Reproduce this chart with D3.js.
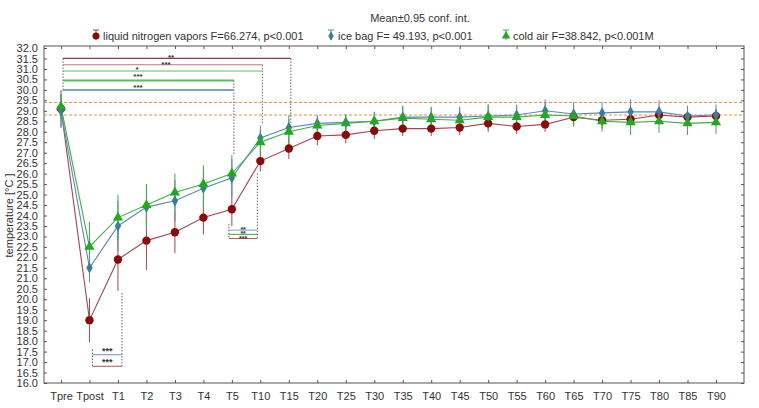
<!DOCTYPE html>
<html>
<head>
<meta charset="utf-8">
<script src="https://cdn.jsdelivr.net/npm/d3@7"></script>
<style>
  body { margin: 0; background: #fff; }
  svg text { font-family: "Liberation Sans", Arial, sans-serif; fill: #333; }
</style>
</head>
<body>
<svg id="chart"></svg>
<script>
const width = 759;
const height = 408;

// categories (time points)
const categories = ["Tpre", "Tpost", "T1", "T2", "T3", "T4", "T5", "T10", "T15", "T20", "T25", "T30",
  "T35", "T40", "T45", "T50", "T55", "T60", "T65", "T70", "T75", "T80", "T85", "T90"];

// means
const nitrogen = [29.1, 19.0, 21.9, 22.8, 23.2, 23.9, 24.3, 26.6, 27.2, 27.8, 27.85, 28.05,
  28.15, 28.15, 28.2, 28.4, 28.25, 28.35, 28.7, 28.55, 28.6, 28.8, 28.7, 28.75];
const iceBag = [29.0, 21.5, 23.5, 24.4, 24.7, 25.3, 25.8, 27.7, 28.2, 28.4, 28.45, 28.5,
  28.7, 28.7, 28.7, 28.75, 28.8, 29.0, 28.85, 28.9, 28.95, 28.95, 28.75, 28.8];
const coldAir = [29.2, 22.5, 23.9, 24.5, 25.1, 25.5, 26.0, 27.5, 28.0, 28.3, 28.4, 28.5,
  28.65, 28.6, 28.55, 28.7, 28.7, 28.8, 28.75, 28.5, 28.45, 28.5, 28.4, 28.45];

// 0.95 confidence half-widths
const nitrogenCI = [0.9, 1.05, 1.5, 1.4, 1.0, 0.8, 0.8, 0.5, 0.5, 0.45, 0.4, 0.4,
  0.35, 0.35, 0.35, 0.4, 0.35, 0.35, 0.4, 0.4, 0.4, 0.4, 0.35, 0.35];
const iceBagCI = [0.8, 0.7, 1.2, 1.1, 1.0, 0.9, 0.9, 0.6, 0.6, 0.4, 0.4, 0.45,
  0.5, 0.5, 0.5, 0.55, 0.5, 0.55, 0.55, 0.5, 0.6, 0.55, 0.5, 0.5];
const coldAirCI = [0.6, 1.2, 1.1, 1.0, 0.9, 0.9, 0.9, 0.6, 0.6, 0.4, 0.4, 0.45,
  0.6, 0.55, 0.55, 0.6, 0.55, 0.6, 0.5, 0.5, 0.6, 0.55, 0.55, 0.55];

const seriesNames = ["liquid nitrogen vapors F=66.274, p<0.001", "ice bag F= 49.193, p<0.001", "cold air  F=38.842, p<0.001M"];

// y tick values
const yTicks = d3.range(16, 32.01, 0.5);

// significance brackets (in data units)
const brackets = [
  { from: "Tpre", to: "T15", level: 31.5, label: "**", color: "#8c3b4e", w: 1.2 },
  { from: "Tpre", to: "T10", level: 31.2, label: "***", color: "#c8707a", w: 1.2 },
  { from: "Tpre", to: "T10", level: 30.9, label: "*", color: "#5cbf5c", w: 1 },
  { from: "Tpre", to: "T5", level: 30.45, label: "***", color: "#5cbf5c", w: 2 },
  { from: "Tpre", to: "T5", level: 30.0, label: "***", color: "#7f9fcc", w: 2 }
];
const midBrackets = [
  { level: 23.3, label: "**", color: "#7f9fcc" },
  { level: 23.1, label: "**", color: "#3aa63a" },
  { level: 22.9, label: "***", color: "#c0505a" }
];
const lowBrackets = [
  { level: 17.35, label: "***", color: "#6b8fc4" },
  { level: 16.8, label: "***", color: "#b05060" }
];
const refBand = [29.4, 28.8];

const svg = d3.select("#chart").attr("width", width).attr("height", height);

const plotLeft = 44, plotRight = 744, plotTop = 48, plotBottom = 383;

const x = d3.scalePoint().domain(categories).range([61, 716]);
const y = d3.scaleLinear().domain([16, 32]).range([plotBottom, plotTop]);

// frame
svg.append("rect")
  .attr("x", plotLeft).attr("y", plotTop - 2)
  .attr("width", plotRight - plotLeft).attr("height", plotBottom - plotTop + 2)
  .attr("fill", "none").attr("stroke", "#555").attr("stroke-width", 1);

// y axis
const yAxis = svg.append("g")
  .attr("transform", `translate(${plotLeft},0)`)
  .call(d3.axisLeft(y).tickValues(yTicks).tickFormat(d3.format(".1f")).tickSize(-3).tickPadding(6));
yAxis.select(".domain").remove();
yAxis.selectAll("line").attr("stroke", "#555");
yAxis.selectAll("text").style("font-size", "11px").attr("fill", "#333");

// right ticks
svg.append("g")
  .attr("transform", `translate(${plotRight},0)`)
  .call(d3.axisRight(y).tickValues(yTicks).tickSize(-3).tickFormat(""))
  .call(g => g.select(".domain").remove())
  .selectAll("line").attr("stroke", "#555");

// x axis
const xAxis = svg.append("g")
  .attr("transform", `translate(0,${plotBottom})`)
  .call(d3.axisBottom(x).tickSize(-3).tickPadding(9));
xAxis.select(".domain").remove();
xAxis.selectAll("line").attr("stroke", "#555");
xAxis.selectAll("text").style("font-size", "11px").attr("fill", "#333");

// top ticks
svg.append("g")
  .attr("transform", `translate(0,${plotTop - 2})`)
  .call(d3.axisTop(x).tickSize(-3).tickFormat(""))
  .call(g => g.select(".domain").remove())
  .selectAll("line").attr("stroke", "#555");

// y label
svg.append("text")
  .attr("transform", `translate(13,${(plotTop + plotBottom) / 2}) rotate(-90)`)
  .attr("text-anchor", "middle")
  .style("font-size", "11px")
  .text("temperature [°C ]");

// reference band (orange dashed)
svg.selectAll(".ref")
  .data(refBand)
  .enter().append("line")
  .attr("x1", plotLeft).attr("x2", plotRight)
  .attr("y1", d => y(d)).attr("y2", d => y(d))
  .attr("stroke", "#e8913a").attr("stroke-width", 1)
  .attr("stroke-dasharray", "3,2");

// top brackets
const dotted = "#666";
svg.append("line")
  .attr("x1", x("Tpre") + 2).attr("x2", x("Tpre") + 2)
  .attr("y1", y(31.5)).attr("y2", y(29.9))
  .attr("stroke", dotted).attr("stroke-dasharray", "1.5,1.5");
[["T5", 30.45, 26.9], ["T10", 31.2, 28.35], ["T15", 31.5, 28.3]].forEach(([c, a, b]) => {
  svg.append("line")
    .attr("x1", x(c) + 2).attr("x2", x(c) + 2)
    .attr("y1", y(a)).attr("y2", y(b))
    .attr("stroke", dotted).attr("stroke-dasharray", "1.5,1.5");
});
brackets.forEach(b => {
  svg.append("line")
    .attr("x1", x(b.from) + 2).attr("x2", x(b.to) + 2)
    .attr("y1", y(b.level)).attr("y2", y(b.level))
    .attr("stroke", b.color).attr("stroke-width", b.w);
});
const bracketLabelX = [171, 166, 137, 138, 138];
const bracketLabelDy = [2, 2, 1, -1, 0];
brackets.forEach((b, i) => {
  svg.append("text")
    .attr("x", bracketLabelX[i]).attr("y", y(b.level) + bracketLabelDy[i])
    .attr("text-anchor", "middle")
    .style("font-size", "8px").style("font-weight", "bold")
    .text(b.label);
});

// mid brackets (T5 - T10)
const mx1 = x("T5") - 3, mx2 = x("T10") - 3;
svg.append("line").attr("x1", mx1).attr("x2", mx1).attr("y1", y(23.6)).attr("y2", y(22.9))
  .attr("stroke", dotted).attr("stroke-dasharray", "1.5,1.5");
svg.append("line").attr("x1", mx2).attr("x2", mx2).attr("y1", y(26.0)).attr("y2", y(22.9))
  .attr("stroke", dotted).attr("stroke-dasharray", "1.5,1.5");
midBrackets.forEach(b => {
  svg.append("line").attr("x1", mx1).attr("x2", mx2)
    .attr("y1", y(b.level)).attr("y2", y(b.level))
    .attr("stroke", b.color).attr("stroke-width", 1);
  svg.append("text").attr("x", (mx1 + mx2) / 2).attr("y", y(b.level) + 2)
    .attr("text-anchor", "middle")
    .style("font-size", "7px").style("font-weight", "bold")
    .text(b.label);
});

// low brackets (Tpost - T1)
const lx1 = x("Tpost") + 3, lx2 = x("T1") + 4;
svg.append("line").attr("x1", lx1).attr("x2", lx1).attr("y1", y(17.6)).attr("y2", y(16.8))
  .attr("stroke", dotted).attr("stroke-dasharray", "1.5,1.5");
svg.append("line").attr("x1", lx2).attr("x2", lx2).attr("y1", y(20.3)).attr("y2", y(16.8))
  .attr("stroke", dotted).attr("stroke-dasharray", "1.5,1.5");
lowBrackets.forEach(b => {
  svg.append("line").attr("x1", lx1).attr("x2", lx2)
    .attr("y1", y(b.level)).attr("y2", y(b.level))
    .attr("stroke", b.color).attr("stroke-width", 1);
  svg.append("text").attr("x", (lx1 + lx2) / 2).attr("y", y(b.level) - 1)
    .attr("text-anchor", "middle")
    .style("font-size", "9px").style("font-weight", "bold")
    .text(b.label);
});

// series
const series = [
  { values: nitrogen, ci: nitrogenCI, line: "#a8434f", mark: "#8b0a0a", shape: d3.symbolCircle, size: 55 },
  { values: iceBag, ci: iceBagCI, line: "#5b88b8", mark: "#3d7aa0", shape: d3.symbolDiamond, size: 36 },
  { values: coldAir, ci: coldAirCI, line: "#3cb043", mark: "#1faa1f", shape: d3.symbolTriangle, size: 45 }
];

const lineGen = d3.line().x((d, i) => x(categories[i])).y(d => y(d));

series.forEach(s => {
  const g = svg.append("g");
  g.append("path")
    .attr("d", lineGen(s.values))
    .attr("fill", "none").attr("stroke", s.line).attr("stroke-width", 1.1);
  g.selectAll(".err")
    .data(s.values)
    .enter().append("line")
    .attr("x1", (d, i) => x(categories[i])).attr("x2", (d, i) => x(categories[i]))
    .attr("y1", (d, i) => y(d - s.ci[i])).attr("y2", (d, i) => y(d + s.ci[i]))
    .attr("stroke", s.line).attr("stroke-width", 1);
});
series.forEach(s => {
  svg.append("g").selectAll("path")
    .data(s.values)
    .enter().append("path")
    .attr("d", d3.symbol().type(s.shape).size(s.size))
    .attr("transform", (d, i) => `translate(${x(categories[i])},${y(d)})`)
    .attr("fill", s.mark);
});

// legend
svg.append("text")
  .attr("x", 420).attr("y", 22)
  .attr("text-anchor", "middle")
  .style("font-size", "11px")
  .text("Mean±0.95 conf. int.");

const legendX = [96, 331, 506];
series.forEach((s, i) => {
  const g = svg.append("g").attr("transform", `translate(${legendX[i]},36)`);
  g.append("line").attr("x1", 0).attr("x2", 0).attr("y1", -6).attr("y2", 4).attr("stroke", s.line);
  g.append("line").attr("x1", -3).attr("x2", 3).attr("y1", -6).attr("y2", -6).attr("stroke", s.line);
  g.append("path").attr("d", d3.symbol().type(s.shape).size(s.size * 0.7)).attr("fill", s.mark);
  g.append("text").attr("x", 7).attr("y", 4).style("font-size", "11px").text(seriesNames[i]);
});
</script>
</body>
</html>
